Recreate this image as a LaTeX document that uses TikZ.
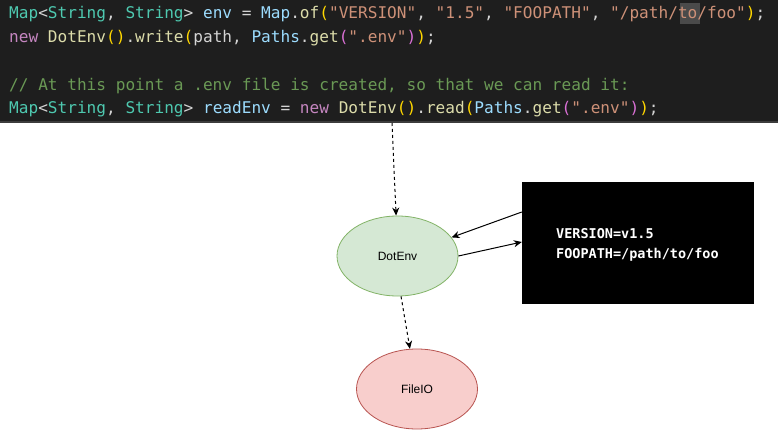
\documentclass[tikz,border=0pt]{standalone}
\usepackage{fontspec}
\setmainfont{Liberation Sans}
\newfontfamily\codefont{DejaVu Sans Mono}
\usetikzlibrary{arrows.meta,shapes.geometric}
\definecolor{codebg}{HTML}{1E1E1E}
\definecolor{codeedge}{HTML}{3C3C3C}
\definecolor{hl}{HTML}{4A4A4A}
\definecolor{tp}{HTML}{4EC9B0}
\definecolor{vr}{HTML}{9CDCFE}
\definecolor{fn}{HTML}{DCDCAA}
\definecolor{st}{HTML}{CE9178}
\definecolor{kw}{HTML}{C586C0}
\definecolor{cm}{HTML}{6A9955}
\definecolor{pn}{HTML}{D4D4D4}
\definecolor{bg}{HTML}{FFD700}
\definecolor{bp}{HTML}{DA70D6}
\definecolor{greenfill}{HTML}{D5E8D4}
\definecolor{greenline}{HTML}{82B366}
\definecolor{redfill}{HTML}{F8CECC}
\definecolor{redline}{HTML}{B85450}
\newcommand{\C}[2]{{\color{#1}#2}}
\begin{document}
\begin{tikzpicture}[x=1pt,y=-1pt,
  codeline/.style={anchor=base west, inner sep=0pt, text=pn,
    font=\codefont\fontsize{16.1}{16.1}\selectfont\frenchspacing},
  boxline/.style={anchor=base west, inner sep=0pt, text=white,
    font=\codefont\bfseries\fontsize{13.5}{13.5}\selectfont\frenchspacing},
  blob/.style={ellipse, draw, line width=0.8pt, inner sep=0pt,
    minimum width=121pt, minimum height=80pt, font=\fontsize{12}{12}\selectfont},
  arr/.style={draw=black, line width=1pt, -{Stealth[length=8pt,width=7pt,inset=2.5pt]}},
  dsh/.style={dash pattern=on 3pt off 3pt}
]
\useasboundingbox (0,0) rectangle (778,430);
\fill[white] (0,0) rectangle (778,430);
% code panel
\fill[codebg] (0,0) rectangle (778,121);
\fill[codeedge] (0,121) rectangle (778,123);
\fill[hl] (680,3) rectangle (700,24);
\node[codeline] (l1) at (9,19) {\C{tp}{Map}<\C{tp}{String}, \C{tp}{String}> \C{vr}{env} = \C{vr}{Map}.\C{fn}{of}\C{bg}{(}\C{st}{"VERSION"}, \C{st}{"1.5"}, \C{st}{"FOOPATH"}, \C{st}{"/path/to/foo"}\C{bg}{)};};
\node[codeline] (l2) at (9,42.75) {\C{kw}{new} \C{fn}{DotEnv}\C{bg}{()}.\C{fn}{write}\C{bg}{(}path, \C{vr}{Paths}.\C{fn}{get}\C{bp}{(}\C{st}{".env"}\C{bp}{)}\C{bg}{)};};
\node[codeline] (l4) at (9,90.25) {\C{cm}{// At this point a .env file is created, so that we can read it:}};
\node[codeline] (l5) at (9,114) {\C{tp}{Map}<\C{tp}{String}, \C{tp}{String}> \C{vr}{readEnv} = \C{kw}{new} \C{fn}{DotEnv}\C{bg}{()}.\C{fn}{read}\C{bg}{(}\C{vr}{Paths}.\C{fn}{get}\C{bp}{(}\C{st}{".env"}\C{bp}{)}\C{bg}{)};};
\coordinate (codeout) at (392,123);
% nodes
\node[blob, fill=greenfill, draw=greenline] (dotenv) at (397.5,256) {DotEnv};
\node[blob, fill=redfill, draw=redline] (fileio) at (417,389) {FileIO};
\node[fill=black, draw=none, minimum width=232pt, minimum height=122pt, inner sep=0pt] (box) at (638,243) {};
\node[boxline] (t1) at (556,238) {VERSION=v1.5};
\node[boxline] (t2) at (556,258) {FOOPATH=/path/to/foo};
% connectors
\draw[arr, dsh] (codeout) -- (dotenv.92);
\draw[arr] ([yshift=31pt]box.west) -- (dotenv.19);
\draw[arr] (dotenv.east) -- ([yshift=1pt]box.west);
\draw[arr, dsh] (dotenv.-85) -- (fileio.100);
\end{tikzpicture}
\end{document}
